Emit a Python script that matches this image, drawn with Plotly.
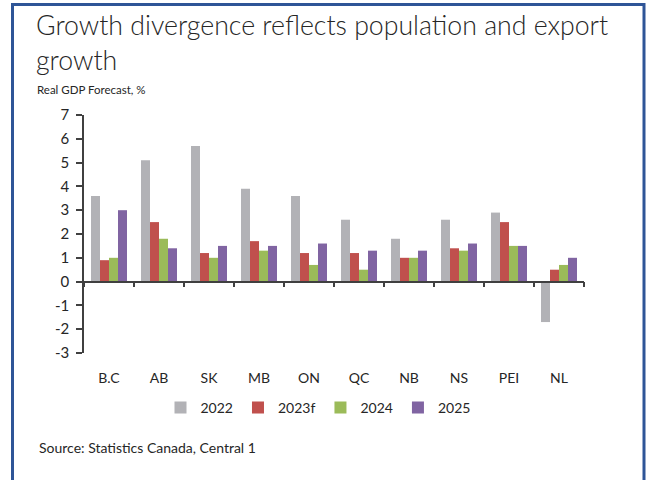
import plotly.graph_objects as go

# Provincial real GDP forecasts, %
provinces = ["B.C", "AB", "SK", "MB", "ON", "QC", "NB", "NS", "PEI", "NL"]
gdp_2022 = [3.6, 5.1, 5.7, 3.9, 3.6, 2.6, 1.8, 2.6, 2.9, -1.7]
gdp_2023f = [0.9, 2.5, 1.2, 1.7, 1.2, 1.2, 1.0, 1.4, 2.5, 0.5]
gdp_2024 = [1.0, 1.8, 1.0, 1.3, 0.7, 0.5, 1.0, 1.3, 1.5, 0.7]
gdp_2025 = [3.0, 1.4, 1.5, 1.5, 1.6, 1.3, 1.3, 1.6, 1.5, 1.0]
series_names = ["2022", "2023f", "2024", "2025"]
series_colors = ["#B2B2B6", "#C0504D", "#9BBB59", "#8064A2"]
y_tick_values = [-3, -2, -1, 0, 1, 2, 3, 4, 5, 6, 7]
y_tick_labels = ["-3", "-2", "-1", "0", "1", "2", "3", "4", "5", "6", "7"]

W, H = 650, 480
ML, MR, MT, MB = 84, 66, 115, 127
PW, PH = W - ML - MR, H - MT - MB


def px_x(px):
    return (px - ML) / PW


def px_y(py):
    return (H - MB - py) / PH


FONT = "Lato, 'Open Sans', sans-serif"
TEXT = "#262626"

fig = go.Figure()
for name, vals, col in zip(series_names, [gdp_2022, gdp_2023f, gdp_2024, gdp_2025], series_colors):
    fig.add_trace(go.Bar(x=provinces, y=vals, name=name, marker=dict(color=col, line=dict(width=0))))

# carrier trace for the category axis drawn along y = 0
fig.add_trace(go.Scatter(x=provinces, y=[0] * len(provinces), xaxis="x2", mode="lines",
                         line=dict(width=0), showlegend=False, hoverinfo="skip"))

ymin, ymax = min(y_tick_values), max(y_tick_values)

fig.update_layout(
    width=W, height=H,
    margin=dict(l=ML, r=MR, t=MT, b=MB),
    paper_bgcolor="white", plot_bgcolor="white",
    font=dict(family=FONT, color=TEXT, size=14),
    barmode="group", bargap=0.28, bargroupgap=0,
    showlegend=True,
    legend=dict(orientation="h", x=px_x(318), xanchor="center", y=px_y(408), yanchor="middle",
                font=dict(size=14, color=TEXT), traceorder="normal", itemwidth=30,
                tracegroupgap=0, itemclick=False),
    xaxis=dict(type="category", categoryarray=provinces, range=[-0.5, len(provinces) - 0.5],
               showline=False, ticks="outside", ticklen=12, tickcolor="rgba(0,0,0,0)",
               showgrid=False, zeroline=False, tickfont=dict(size=14, color=TEXT)),
    xaxis2=dict(type="category", categoryarray=provinces, range=[-0.5, len(provinces) - 0.5],
                overlaying="x", anchor="free", position=(0 - ymin) / (ymax - ymin),
                showline=True, linecolor="#404040", linewidth=1.5,
                ticks="outside", tickson="boundaries", ticklen=5, tickcolor="#404040", tickwidth=1.5,
                showticklabels=False, showgrid=False, zeroline=False),
    yaxis=dict(range=[ymin, ymax], tickvals=y_tick_values, ticktext=y_tick_labels,
               showline=True, linecolor="#404040", linewidth=1.5,
               ticks="outside", ticklen=6, tickcolor="#404040", tickwidth=1.5,
               showgrid=False, zeroline=False, tickfont=dict(size=15, color=TEXT),
               ticklabelstandoff=4),
    shapes=[dict(type="rect", xref="paper", yref="paper",
                 x0=px_x(12.5), x1=px_x(644), y0=px_y(4.5), y1=px_y(495),
                 line=dict(color="#2E5597", width=3), fillcolor="rgba(0,0,0,0)")],
    annotations=[
        dict(text="Growth divergence reflects population and export<br>growth",
             xref="paper", yref="paper", x=px_x(34), y=px_y(7), xanchor="left", yanchor="top",
             align="left", showarrow=False,
             font=dict(size=26.7, color=TEXT, family=FONT, weight=300)),
        dict(text="Real GDP Forecast, %", xref="paper", yref="paper", x=px_x(35), y=px_y(90),
             xanchor="left", yanchor="middle", showarrow=False,
             font=dict(size=11.5, color=TEXT, family=FONT)),
        dict(text="Source: Statistics Canada, Central 1", xref="paper", yref="paper",
             x=px_x(37), y=px_y(447), xanchor="left", yanchor="middle", showarrow=False,
             font=dict(size=14, color=TEXT, family=FONT)),
    ],
)

fig.write_html("out.html")
